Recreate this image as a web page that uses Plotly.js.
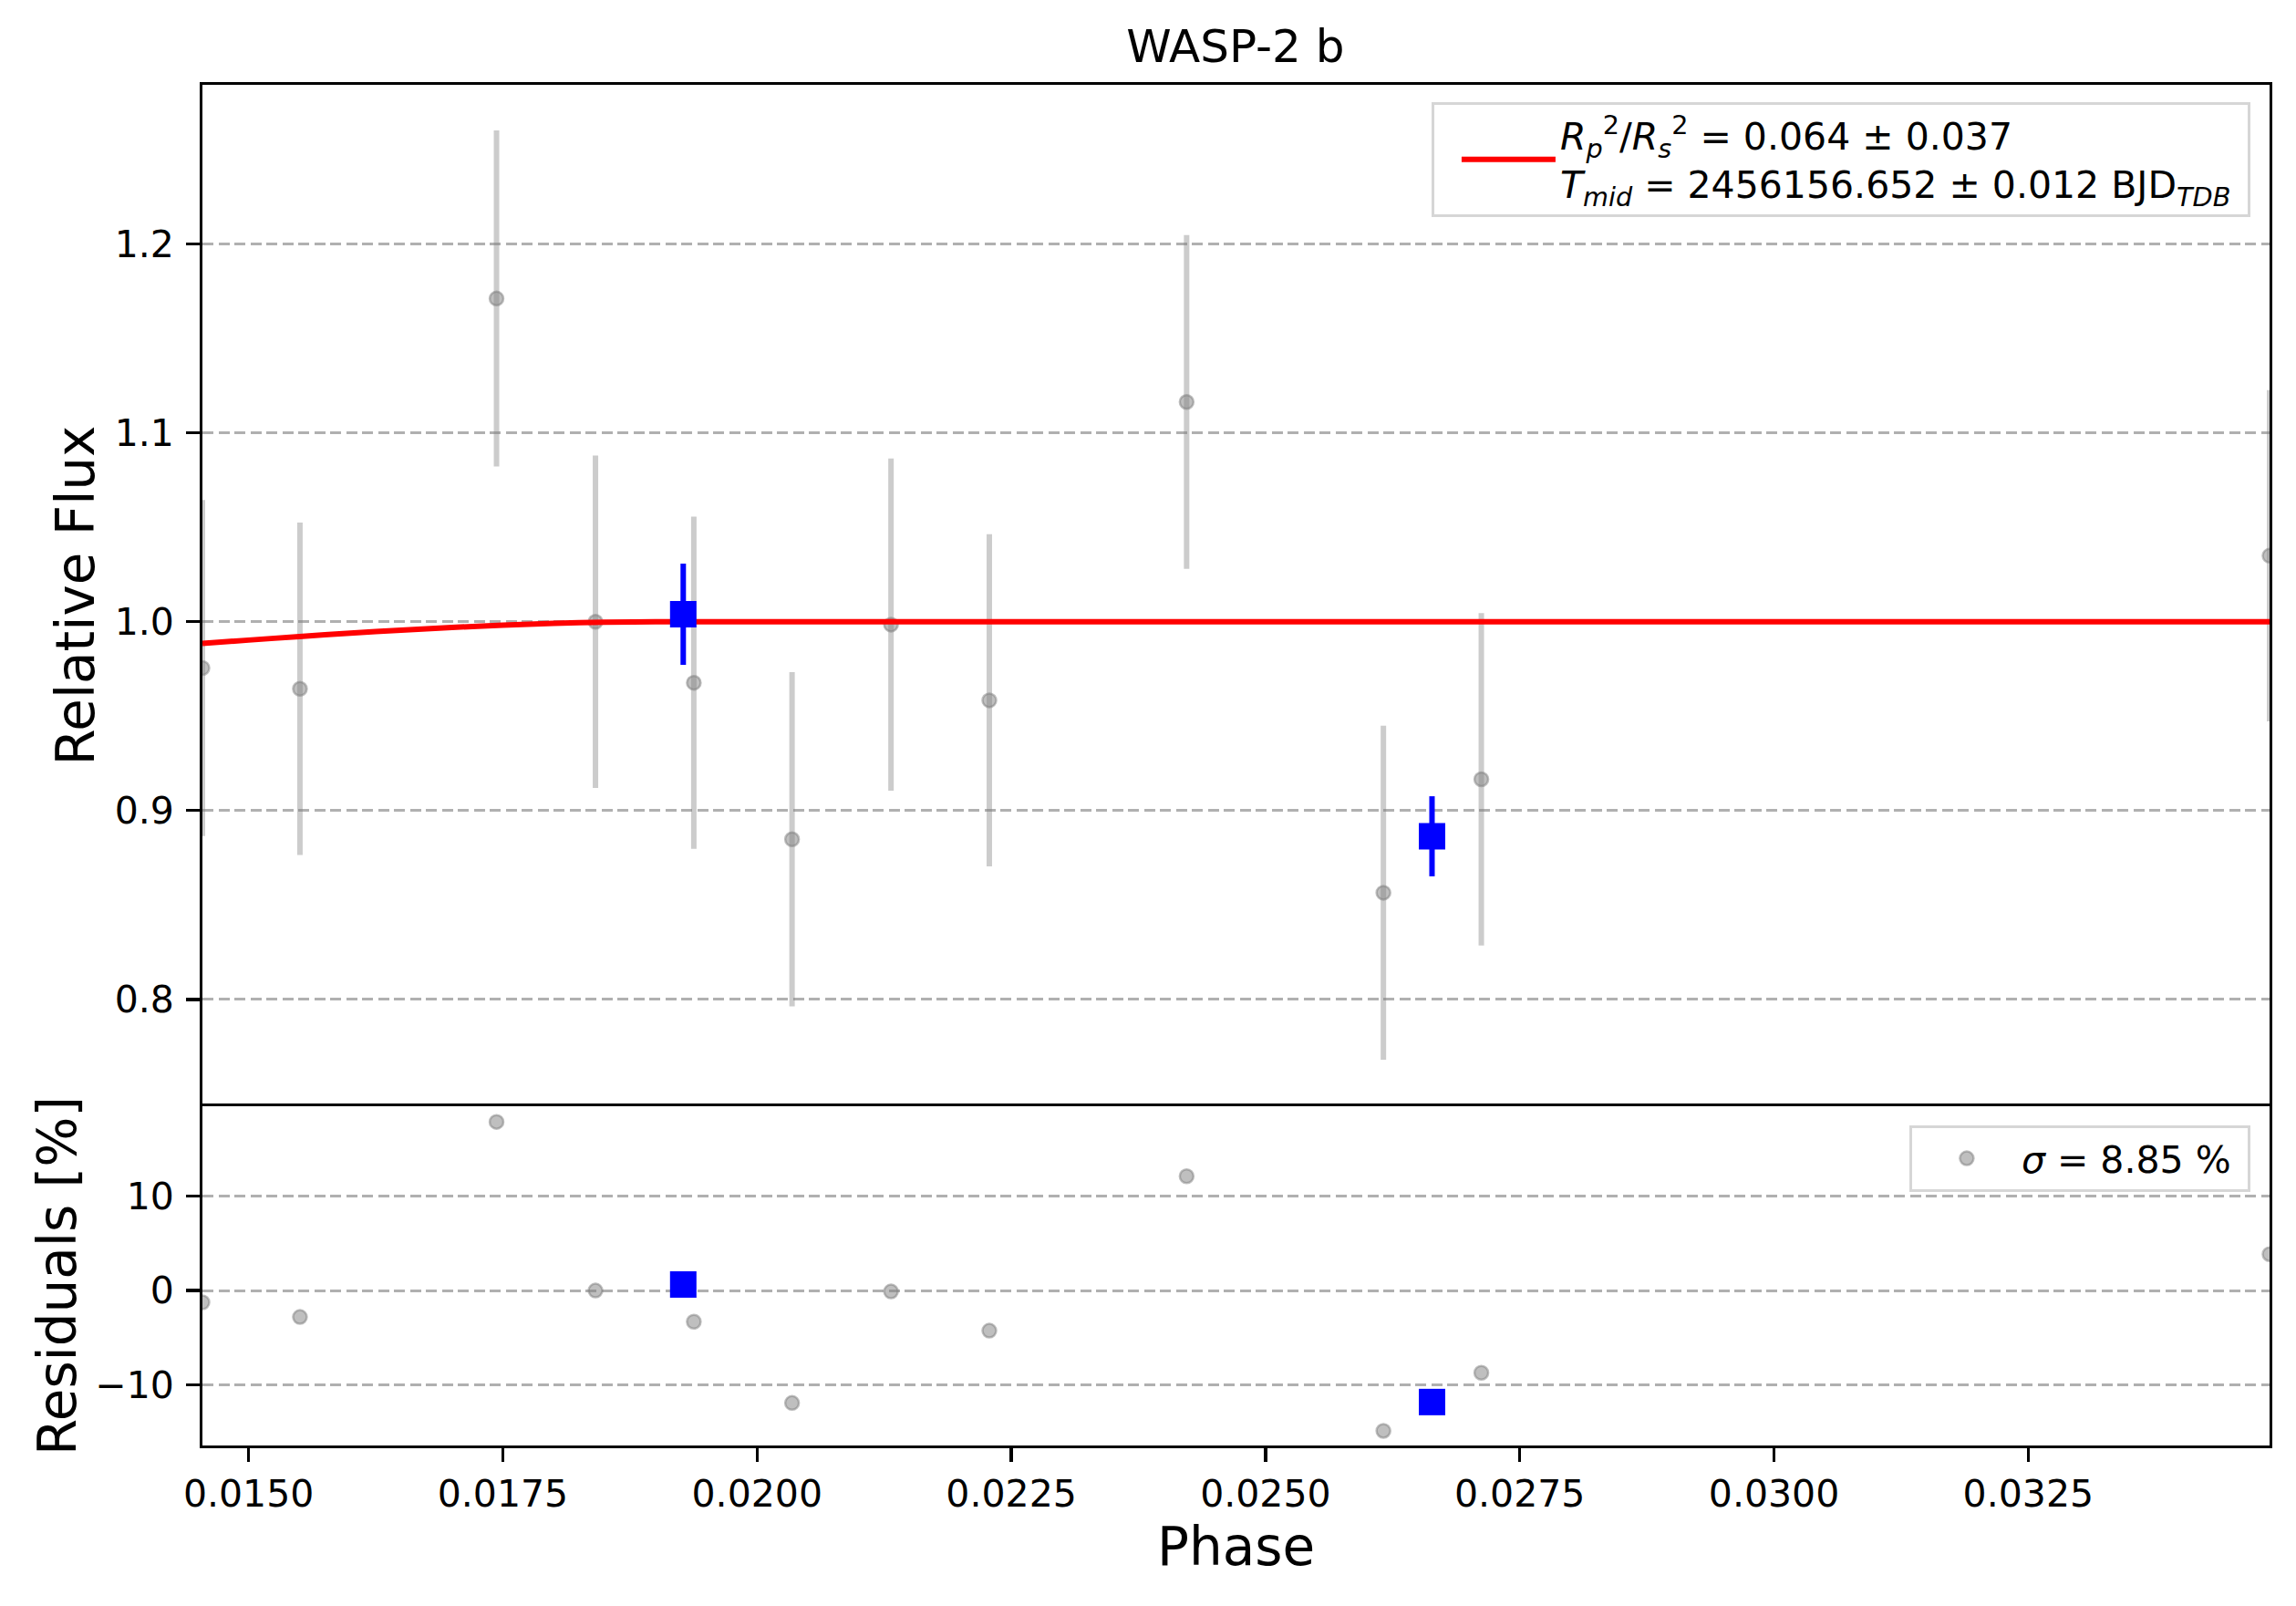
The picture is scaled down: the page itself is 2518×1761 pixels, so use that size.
<!DOCTYPE html>
<html>
<head>
<meta charset="utf-8">
<script src="https://cdn.plot.ly/plotly-3.0.1.min.js"></script>
<style>
  html, body { margin: 0; padding: 0; background: #fff; }
  #chart { width: 2518px; height: 1761px; }
</style>
</head>
<body>
<div id="chart"></div>
<script>
'use strict';

// unbinned observations
var phase = [0.014546, 0.015505, 0.017438, 0.018411, 0.019378, 0.020344,
             0.021317, 0.022284, 0.024224, 0.026159, 0.027122, 0.034873];
var flux = [0.9755, 0.9645, 1.1712, 1.0000, 0.9677, 0.8848,
            0.9985, 0.9584, 1.1164, 0.8565, 0.9166, 1.0350];
var fluxErr = [0.089, 0.088, 0.089, 0.088, 0.088, 0.0885,
               0.088, 0.088, 0.0884, 0.0884, 0.088, 0.0877];
var residuals = [-1.25, -2.8, 17.85, 0.0, -3.3, -11.9,
                 -0.1, -4.25, 12.1, -14.85, -8.7, 3.85];

// binned points
var binPhase = [0.019274, 0.026637];
var binFlux = [1.004, 0.8864];
var binErr = [0.0268, 0.0212];
var binResid = [0.64, -11.8];

// transit model
var modelPhase = [0.014546, 0.0150, 0.0155, 0.0160, 0.0165, 0.0170,
                  0.0175, 0.0180, 0.0185, 0.0190, 0.0200, 0.034873];
var modelFlux = [0.9885, 0.9903, 0.9922, 0.9940, 0.9956, 0.9970,
                 0.9982, 0.9992, 0.9998, 1.0, 1.0, 1.0];

var font = 'DejaVu Sans, Liberation Sans, sans-serif';
var gray = 'rgba(128,128,128,0.5)';

var data = [{
    x: phase,
    y: flux,
    error_y: {type: 'data', array: fluxErr, visible: true, color: 'rgba(128,128,128,0.4)', thickness: 6, width: 0},
    mode: 'markers',
    type: 'scatter',
    marker: {size: 15, color: gray, line: {color: gray, width: 2.5}},
    showlegend: false,
    xaxis: 'x',
    yaxis: 'y'
}, {
    x: modelPhase,
    y: modelFlux,
    mode: 'lines',
    type: 'scatter',
    line: {color: '#ff0000', width: 6, shape: 'spline', smoothing: 0.8},
    name: '<i>R</i><sub><i>p</i></sub><sup>2</sup>/<i>R</i><sub><i>s</i></sub><sup>2</sup> = 0.064 ± 0.037<br>' +
          '<i>T</i><sub><i>mid</i></sub> = 2456156.652 ± 0.012 BJD<sub><i>TDB</i></sub>\u00a0',
    legend: 'legend',
    xaxis: 'x',
    yaxis: 'y'
}, {
    x: binPhase,
    y: binFlux,
    error_y: {type: 'data', array: binErr, visible: true, color: '#0000ff', thickness: 6, width: 0},
    mode: 'markers',
    type: 'scatter',
    marker: {symbol: 'square', size: 29, color: '#0000ff'},
    showlegend: false,
    xaxis: 'x',
    yaxis: 'y'
}, {
    x: phase,
    y: residuals,
    mode: 'markers',
    type: 'scatter',
    marker: {size: 15, color: gray, line: {color: gray, width: 2.5}},
    name: '<i>σ</i> = 8.85 %\u00a0',
    legend: 'legend2',
    xaxis: 'x2',
    yaxis: 'y2'
}, {
    x: binPhase,
    y: binResid,
    mode: 'markers',
    type: 'scatter',
    marker: {symbol: 'square', size: 29, color: '#0000ff'},
    showlegend: false,
    xaxis: 'x2',
    yaxis: 'y2'
}];

var frame = {
    showline: true,
    linecolor: '#000',
    linewidth: 3.3,
    mirror: true,
    zeroline: false,
    tickfont: {family: font, size: 41, color: '#000'},
    tickcolor: '#000',
    tickwidth: 3.3,
    ticklen: 14.6
};

var titleFont = {family: font, size: 58, color: '#000'};

var layout = {
    width: 2518,
    height: 1761,
    margin: {l: 222, r: 29, t: 93, b: 176, pad: 0},
    paper_bgcolor: '#fff',
    plot_bgcolor: '#fff',
    font: {family: font, color: '#000'},
    title: {
        text: 'WASP-2 b',
        font: {family: font, size: 50, color: '#000'},
        x: 0.5381,
        xanchor: 'center',
        yref: 'container',
        y: 0.9716,
        yanchor: 'middle'
    },
    xaxis: Object.assign({}, frame, {
        anchor: 'y',
        side: 'top',
        mirror: false,
        range: [0.014546, 0.034873],
        showticklabels: false,
        ticks: '',
        showgrid: false
    }),
    xaxis2: Object.assign({}, frame, {
        anchor: 'y2',
        matches: 'x',
        range: [0.014546, 0.034873],
        ticks: 'outside',
        tick0: 0.015,
        dtick: 0.0025,
        tickformat: '.4f',
        ticklabelstandoff: 0,
        showgrid: false,
        title: {text: 'Phase', font: titleFont, standoff: 6}
    }),
    yaxis: Object.assign({}, frame, {
        domain: [0.2493, 1],
        anchor: 'x',
        range: [0.7434, 1.2844],
        ticks: 'outside',
        tick0: 0,
        dtick: 0.1,
        tickformat: '.1f',
        ticklabelstandoff: 5,
        showgrid: true,
        gridcolor: '#b0b0b0',
        gridwidth: 3,
        griddash: '12px,5.5px',
        title: {text: 'Relative Flux', font: titleFont, standoff: 4}
    }),
    yaxis2: Object.assign({}, frame, {
        domain: [0, 0.2493],
        anchor: 'x2',
        range: [-16.4, 19.5],
        ticks: 'outside',
        tick0: 0,
        dtick: 10,
        ticklabelstandoff: 5,
        showgrid: true,
        gridcolor: '#b0b0b0',
        gridwidth: 3,
        griddash: '12px,5.5px',
        title: {text: 'Residuals [%]', font: titleFont, standoff: 3}
    }),
    legend: {
        x: 0.9907,
        xanchor: 'right',
        y: 0.9873,
        yanchor: 'top',
        bgcolor: 'rgba(255,255,255,0.8)',
        bordercolor: '#d6d6d6',
        borderwidth: 3,
        indentation: 25,
        itemwidth: 103,
        font: {family: font, size: 41, color: '#000'}
    },
    legend2: {
        x: 0.9907,
        xanchor: 'right',
        y: 0.2353,
        yanchor: 'top',
        bgcolor: 'rgba(255,255,255,0.8)',
        bordercolor: '#d6d6d6',
        borderwidth: 3,
        indentation: 0,
        itemwidth: 110,
        font: {family: font, size: 41, color: '#000'}
    }
};

Plotly.newPlot('chart', data, layout, {displayModeBar: false, staticPlot: true});
</script>
</body>
</html>
